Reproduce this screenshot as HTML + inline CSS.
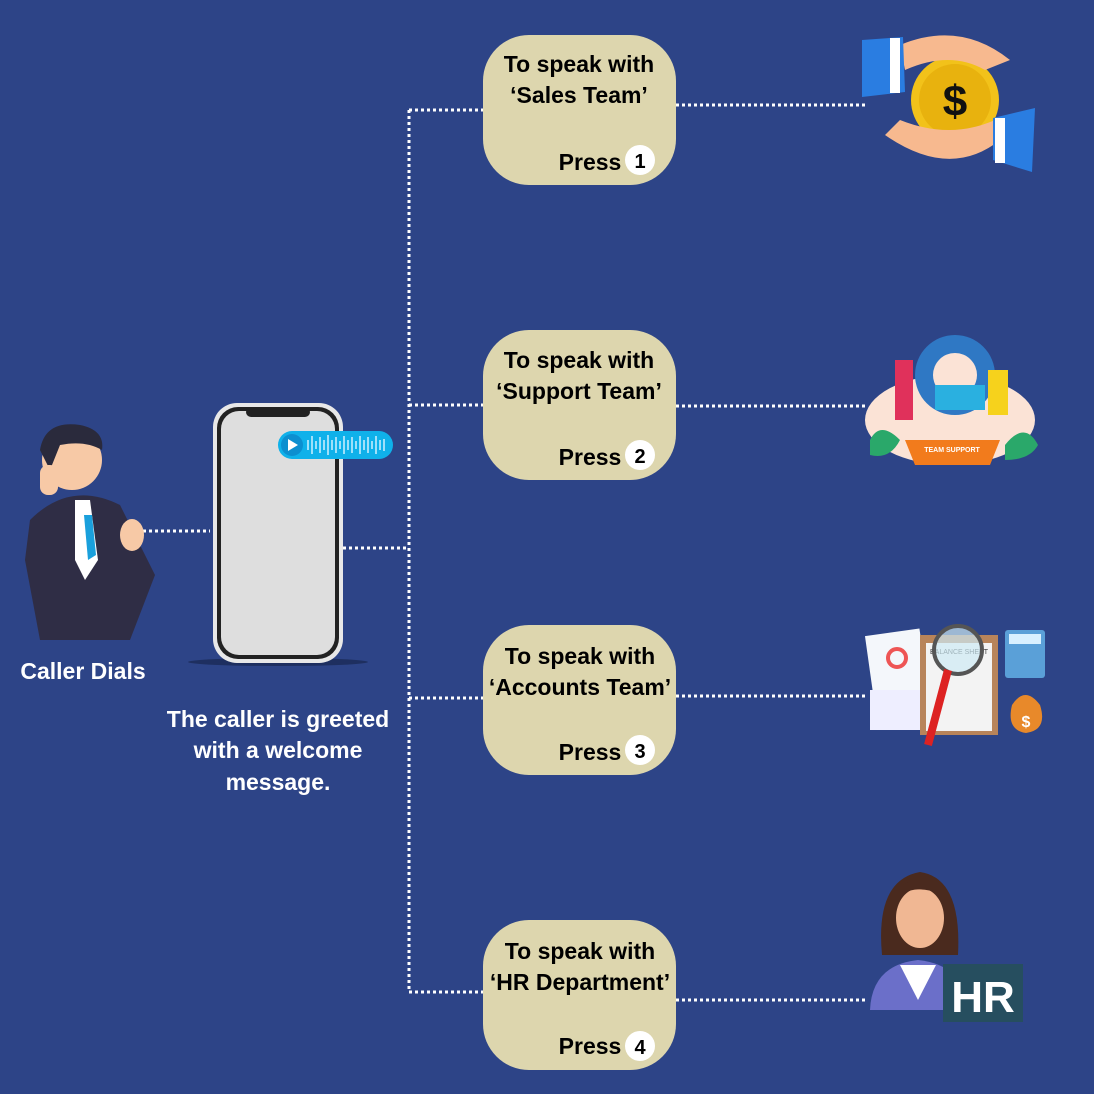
<!DOCTYPE html>
<html><head><meta charset="utf-8"><style>
body{margin:0;width:1094px;height:1094px;background:#2d4487;overflow:hidden;font-family:"Liberation Sans",sans-serif;}
svg{position:absolute;left:0;top:0}
.t{font-family:"Liberation Sans",sans-serif;font-weight:bold;}
</style></head><body>
<svg width="1094" height="1094" viewBox="0 0 1094 1094">
<rect width="1094" height="1094" fill="#2d4487"/>
<g stroke="#fff" stroke-width="3" stroke-dasharray="3 3" fill="none">
<path d="M409 110V992"/>
<path d="M409 110H483M409 405H483M409 698H483M409 992H483"/>
<path d="M343 548H409M143 531H210"/>
<path d="M676 105H867M676 406H867M676 696H867M676 1000H867"/>
</g>
<g class="t" font-size="23" text-anchor="middle" fill="#000">
<rect x="483" y="35" width="193" height="150" rx="46" fill="#ddd6ae"/>
<text x="579" y="72">To speak with</text><text x="579" y="103">‘Sales Team’</text>
<text x="590" y="170">Press</text><circle cx="640" cy="160" r="15" fill="#fff"/><text x="640" y="168" font-size="20">1</text>
<rect x="483" y="330" width="193" height="150" rx="46" fill="#ddd6ae"/>
<text x="579" y="368">To speak with</text><text x="579" y="399">‘Support Team’</text>
<text x="590" y="465">Press</text><circle cx="640" cy="455" r="15" fill="#fff"/><text x="640" y="463" font-size="20">2</text>
<rect x="483" y="625" width="193" height="150" rx="46" fill="#ddd6ae"/>
<text x="580" y="664">To speak with</text><text x="580" y="695">‘Accounts Team’</text>
<text x="590" y="760">Press</text><circle cx="640" cy="750" r="15" fill="#fff"/><text x="640" y="758" font-size="20">3</text>
<rect x="483" y="920" width="193" height="150" rx="46" fill="#ddd6ae"/>
<text x="580" y="959">To speak with</text><text x="580" y="990">‘HR Department’</text>
<text x="590" y="1054">Press</text><circle cx="640" cy="1046" r="15" fill="#fff"/><text x="640" y="1054" font-size="20">4</text>
</g>
<g class="t" font-size="23" fill="#fff" text-anchor="middle">
<text x="83" y="679">Caller Dials</text>
<text x="278" y="727">The caller is greeted</text>
<text x="278" y="758">with a welcome</text>
<text x="278" y="790">message.</text>
</g>
<!-- phone -->
<ellipse cx="278" cy="662" rx="90" ry="4" fill="#1e2f60"/>
<rect x="213" y="403" width="130" height="260" rx="24" fill="#e8e8e8"/>
<rect x="217" y="407" width="122" height="252" rx="21" fill="#222"/>
<rect x="221" y="411" width="114" height="244" rx="18" fill="#dedede"/>
<rect x="246" y="407" width="64" height="10" rx="5" fill="#222"/>
<rect x="278" y="431" width="115" height="28" rx="14" fill="#0fb1ea"/>
<circle cx="292" cy="445" r="11" fill="#0c8fd0"/><path d="M288 439L298 445L288 451Z" fill="#fff"/>
<g stroke="#cfefff" stroke-width="1.5"><path d="M308 440v10M312 436v18M316 441v8M320 437v16M324 440v10M328 435v20M332 440v10M336 437v16M340 441v8M344 436v18M348 440v10M352 437v16M356 441v8M360 436v18M364 440v10M368 437v16M372 441v8M376 436v18M380 440v10M384 439v12"/></g>
<!-- caller -->
<path d="M30 520Q70 480 120 505L155 575L130 640H40L25 560Z" fill="#2f2d45"/>
<path d="M75 500L90 500L98 560L85 580L75 560Z" fill="#fff"/><path d="M84 515L92 515L96 555L88 560Z" fill="#1aa0dc"/>
<circle cx="72" cy="460" r="30" fill="#f7c9a6"/><path d="M40 450Q45 420 80 425Q105 430 102 450Q85 440 60 445L50 470Z" fill="#2a2a3c"/>
<ellipse cx="132" cy="535" rx="12" ry="16" fill="#f7c9a6"/>
<rect x="40" y="465" width="18" height="30" rx="8" fill="#f7c9a6"/>
<!-- sales -->
<circle cx="955" cy="100" r="44" fill="#f2c21a"/><circle cx="955" cy="100" r="36" fill="#e8b20e"/>
<text x="955" y="116" class="t" font-size="44" text-anchor="middle" fill="#111">$</text>
<path d="M900 45Q960 20 1010 60L985 70Q950 50 905 70Z" fill="#f7b98f"/>
<path d="M885 135Q950 180 1000 140L995 120Q950 140 900 120Z" fill="#f7b98f"/>
<path d="M862 40L903 37L905 92L862 97Z" fill="#2a7de1"/><rect x="890" y="38" width="10" height="55" fill="#fff"/>
<path d="M993 118L1035 108L1032 172L993 160Z" fill="#2a7de1"/><rect x="995" y="118" width="10" height="45" fill="#fff"/>
<!-- support -->
<ellipse cx="950" cy="420" rx="85" ry="45" fill="#fbe3d6"/>
<circle cx="955" cy="375" r="40" fill="#2f78c4"/><circle cx="955" cy="375" r="22" fill="#fbe3d6"/>
<path d="M870 440Q880 420 900 440Q890 460 870 455Z M1005 445Q1025 420 1038 445Q1030 460 1005 460Z" fill="#2aa86a"/>
<rect x="895" y="360" width="18" height="60" fill="#e0315b"/><rect x="988" y="370" width="20" height="45" fill="#f6d21c"/>
<rect x="935" y="385" width="50" height="25" fill="#2ab0e0"/>
<path d="M905 440H1000L990 465H915Z" fill="#f27b1c"/>
<text x="952" y="452" font-size="7" fill="#fff" text-anchor="middle" class="t">TEAM SUPPORT</text>
<!-- accounts -->
<rect x="870" y="632" width="55" height="75" fill="#f4f7fb" transform="rotate(-8 897 670)"/>
<circle cx="897" cy="658" r="9" fill="none" stroke="#e55" stroke-width="4"/>
<rect x="920" y="635" width="78" height="100" fill="#b8845a"/><rect x="926" y="643" width="66" height="88" fill="#f3f3f3"/>
<text x="959" y="654" font-size="7" text-anchor="middle" fill="#333">BALANCE SHEET</text>
<circle cx="958" cy="650" r="24" fill="#cde9f4" stroke="#555" stroke-width="4" fill-opacity="0.7"/>
<path d="M948 670L928 745" stroke="#d22" stroke-width="8"/>
<rect x="870" y="690" width="50" height="40" fill="#eef"/>
<rect x="1005" y="630" width="40" height="48" rx="3" fill="#5aa0d8"/><rect x="1009" y="634" width="32" height="10" fill="#d8f0ff"/>
<path d="M1012 705Q1025 685 1040 705Q1048 730 1026 733Q1006 730 1012 705Z" fill="#e8892a"/>
<text x="1026" y="727" class="t" font-size="16" fill="#fff" text-anchor="middle">$</text>
<!-- HR -->
<path d="M870 1010Q872 965 918 960Q965 965 968 1010Z" fill="#6b6fc9"/>
<path d="M900 965L918 1000L936 965Z" fill="#fff"/>
<path d="M882 955Q875 880 920 872Q962 878 958 955Z" fill="#4a2a1e"/>
<ellipse cx="920" cy="918" rx="24" ry="30" fill="#f0b793"/>
<path d="M895 905Q905 880 945 895L945 888Q920 870 895 890Z" fill="#4a2a1e"/>
<rect x="943" y="964" width="80" height="58" fill="#264e5f"/>
<text x="983" y="1012" class="t" font-size="44" text-anchor="middle" fill="#fff">HR</text>
</svg>
</body></html>
